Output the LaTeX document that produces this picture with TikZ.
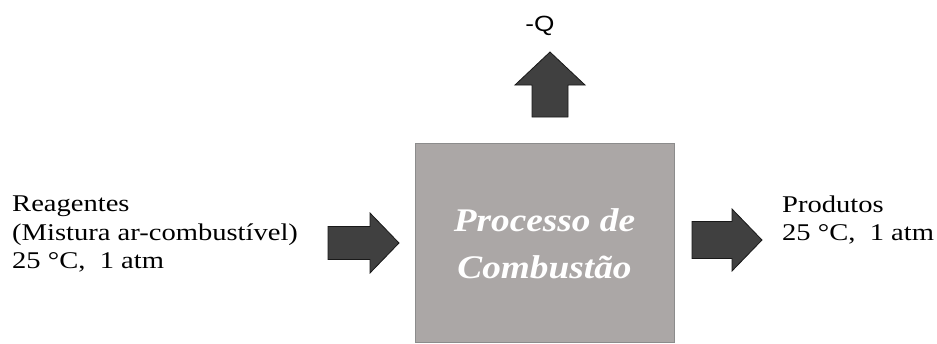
\documentclass[tikz,border=0pt]{standalone}
\usepackage{fontspec}
\setmainfont{Liberation Serif}[FakeStretch=1.19]
\newfontfamily\procfont{Liberation Serif}[FakeStretch=1.13]
\newfontfamily\labelsans{Liberation Sans}[FakeStretch=1.19]
\usetikzlibrary{positioning}
\definecolor{procgray}{RGB}{171,167,166}
\definecolor{procedge}{RGB}{140,140,140}
\definecolor{arrowgray}{RGB}{64,64,64}
% block arrow pointing along +x: shaft length, head length, shaft half width, head half width
\newcommand{\blockarrow}[4]{(0,-#3) -- (#1,-#3) -- (#1,-#4) -- (#1+#2,0) -- (#1,#4) -- (#1,#3) -- (0,#3) -- cycle}
\tikzset{
  procbox/.style={draw=procedge, fill=procgray, line width=1pt, minimum width=259pt, minimum height=199pt, inner sep=0pt},
  fatarrow/.style={draw=black!90, fill=arrowgray, line width=0.8pt, line join=miter},
  sidetext/.style={align=left, inner sep=0pt, font=\fontsize{24}{28.2}\selectfont}
}
\begin{document}
\begin{tikzpicture}[x=1pt, y=-1pt]
\useasboundingbox (0,0) rectangle (937,343);
\node[procbox] (proc) at (544.5,242.5) {};
\node[align=center, text=white, inner sep=0pt, anchor=north, font=\procfont\fontsize{33}{46.5}\selectfont\bfseries\itshape] (proctext) at (544.5,208.8) {Processo de\\Combustão};
\node[sidetext, anchor=north west] (reag) at (12,196) {Reagentes\\(Mistura ar-combustível)\\25 °C,\ \ 1 atm};
\node[sidetext, anchor=north west] (prod) at (782,195.6) {Produtos\\25 °C,\ \ 1 atm};
\node[font=\labelsans\fontsize{22}{25}\selectfont, inner sep=0pt, anchor=base] (heat) at (540,31) {-Q};
% block arrows
\draw[fatarrow, shift={(328,243)}] \blockarrow{42}{29}{16.5}{30};
\draw[fatarrow, shift={(692,240)}] \blockarrow{40}{30}{18.5}{31};
\draw[fatarrow, shift={(550,117)}, rotate=90] \blockarrow{32}{33}{18}{35};
\end{tikzpicture}
\end{document}
